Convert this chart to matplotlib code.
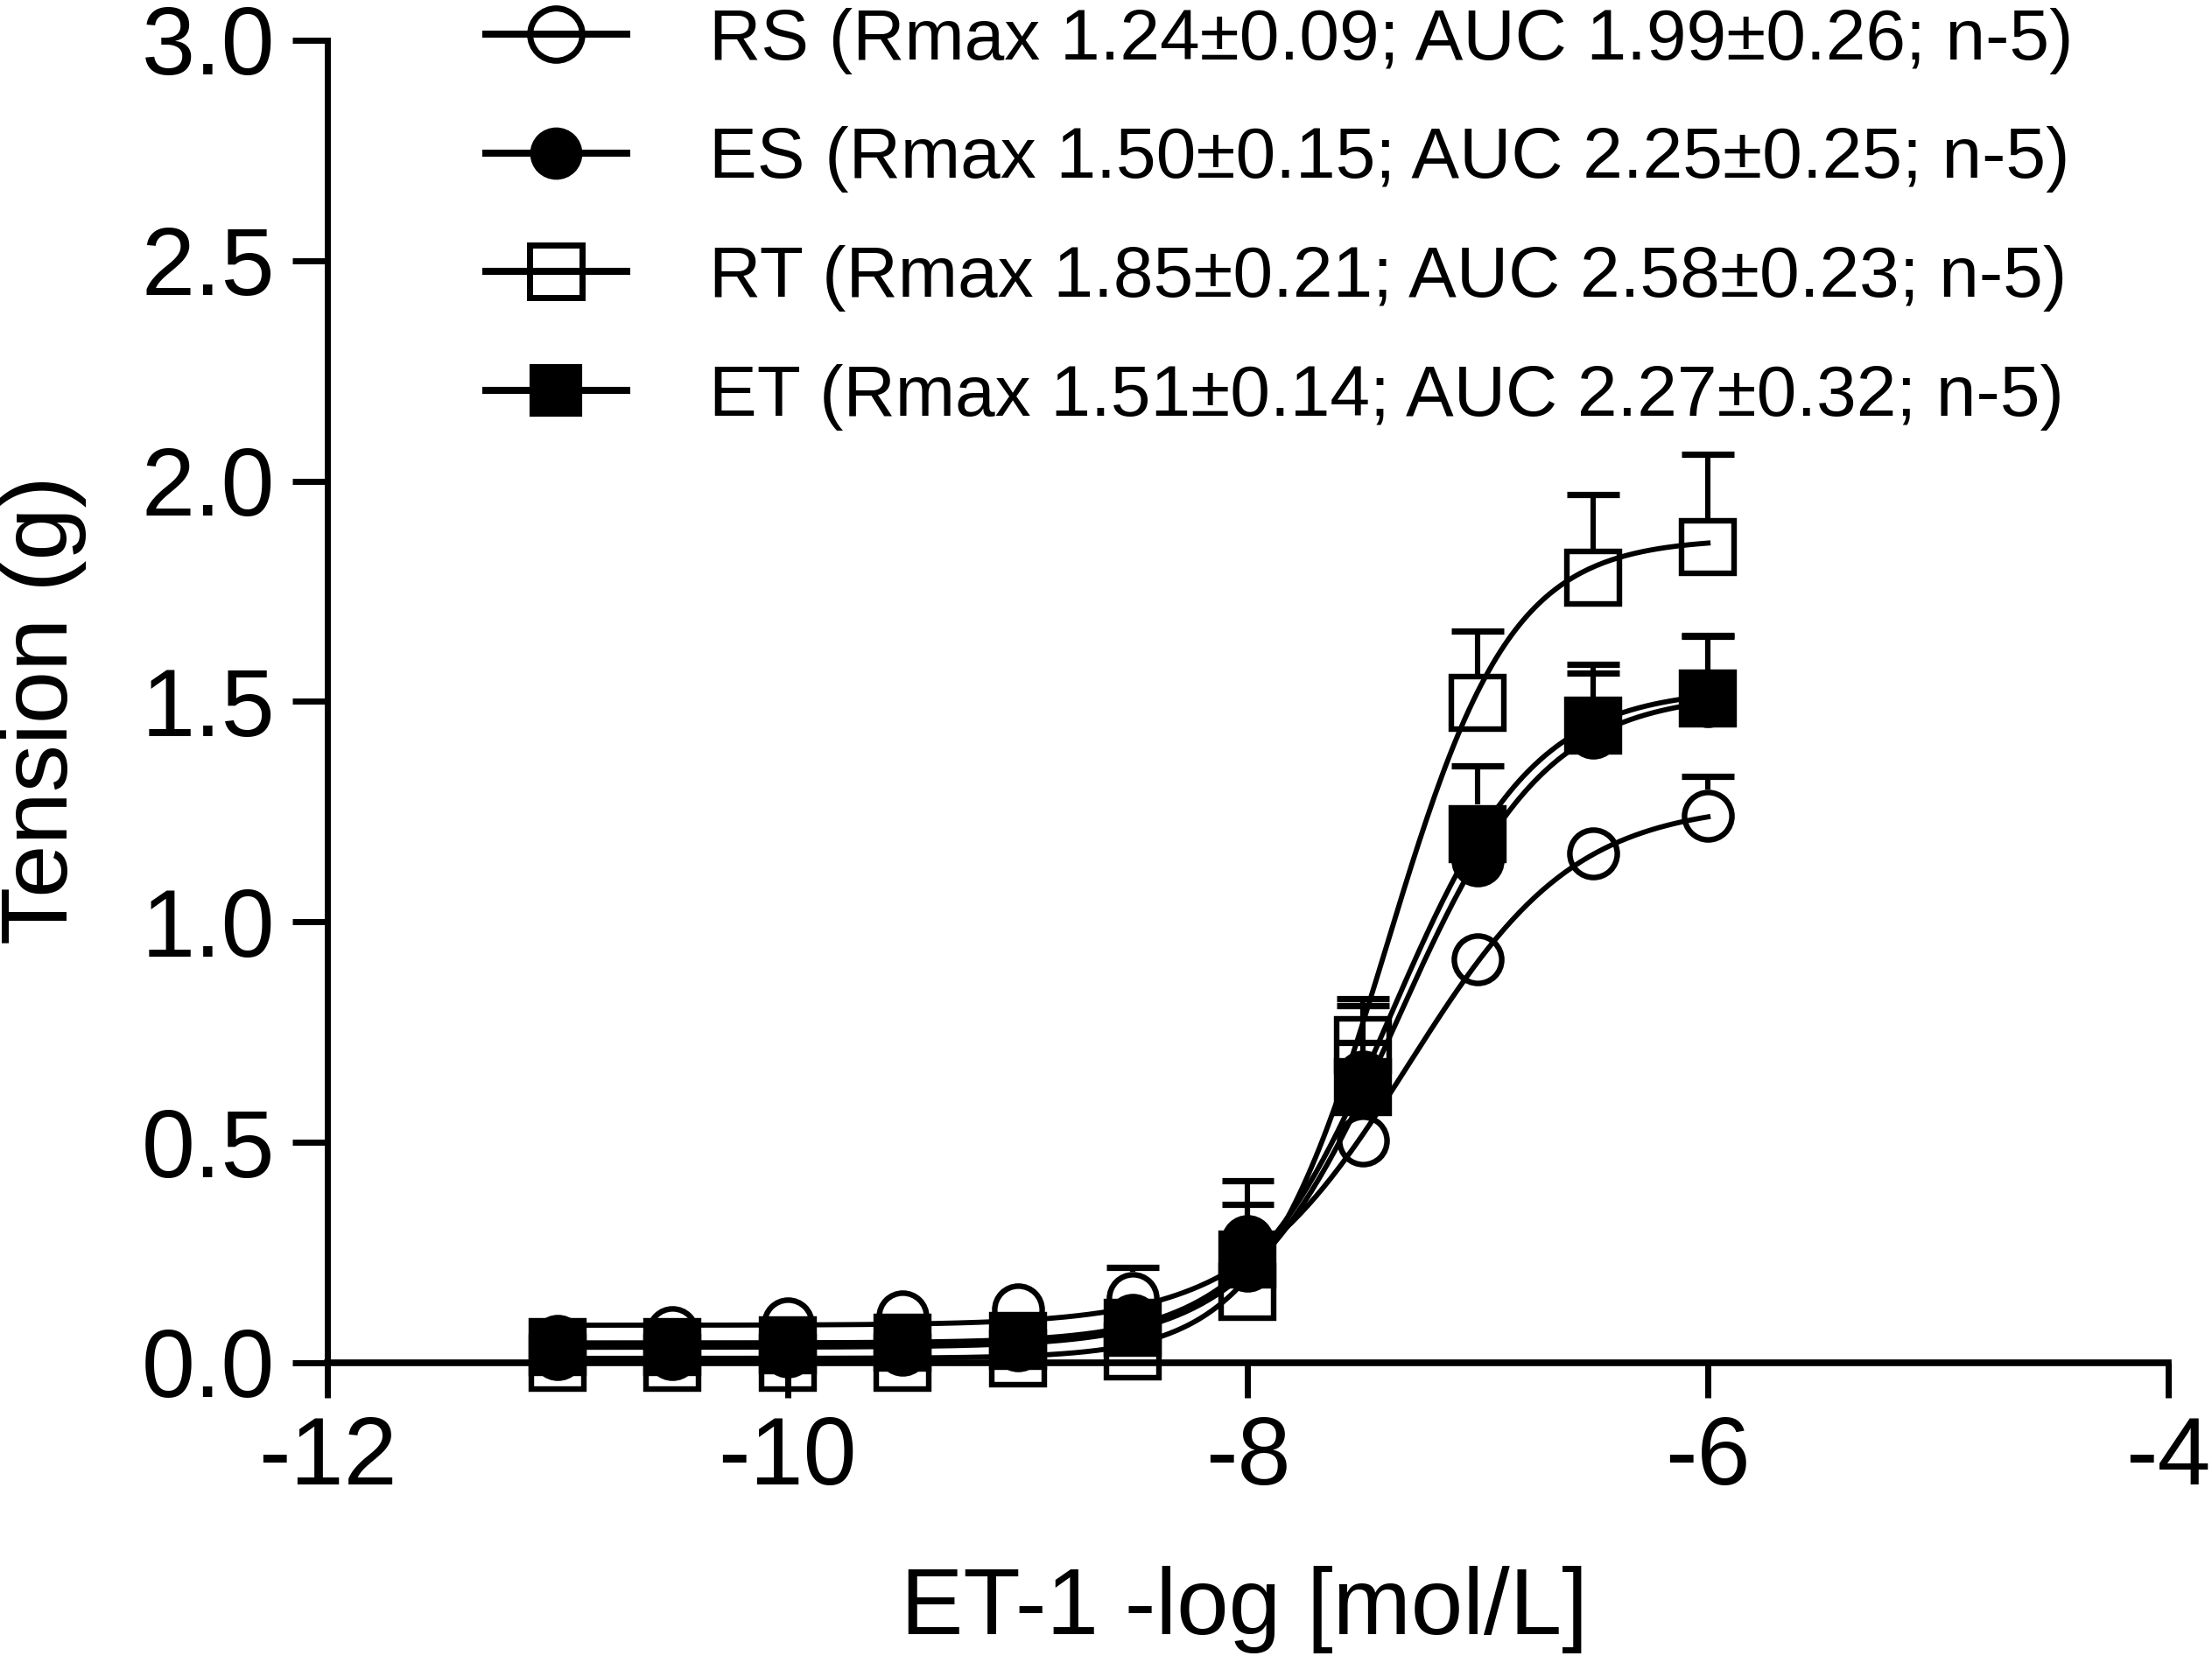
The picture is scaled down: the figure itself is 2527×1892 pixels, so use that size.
import numpy as np
import matplotlib
matplotlib.use('Agg')
import matplotlib.pyplot as plt
from matplotlib.lines import Line2D

plt.rcParams['font.family'] = ['Liberation Sans', 'DejaVu Sans']
plt.rcParams['axes.unicode_minus'] = False

# ET-1 concentrations (log mol/L)
log_conc = np.array([-11, -10.5, -10, -9.5, -9, -8.5, -8, -7.5, -7, -6.5, -6])

# mean tension (g) per group
rs_mean = np.array([0.05, 0.07, 0.09, 0.105, 0.12, 0.147, 0.22, 0.505, 0.915, 1.155, 1.24])
es_mean = np.array([0.02, 0.02, 0.025, 0.03, 0.04, 0.097, 0.275, 0.65, 1.14, 1.43, 1.50])
rt_mean = np.array([0.0, 0.0, 0.0, 0.0, 0.01, 0.025, 0.16, 0.72, 1.497, 1.78, 1.85])
et_mean = np.array([0.035, 0.035, 0.04, 0.045, 0.05, 0.08, 0.235, 0.626, 1.20, 1.445, 1.507])

# SEM
rs_sem = np.array([0.01, 0.01, 0.01, 0.01, 0.01, 0.07, 0.05, 0.04, 0.05, 0.05, 0.09])
es_sem = np.array([0.01, 0.01, 0.01, 0.01, 0.01, 0.04, 0.138, 0.16, 0.10, 0.135, 0.15])
rt_sem = np.array([0.0, 0.0, 0.0, 0.0, 0.01, 0.02, 0.05, 0.105, 0.163, 0.19, 0.21])
et_sem = np.array([0.01, 0.01, 0.01, 0.01, 0.01, 0.03, 0.125, 0.10, 0.154, 0.14, 0.14])

# fitted sigmoid parameters: bottom, top, logEC50, hill slope
rs_fit = [0.085, 1.27, -7.30, 1.2]
es_fit = [0.035, 1.52, -7.35, 1.35]
rt_fit = [0.01, 1.87, -7.40, 1.6]
et_fit = [0.045, 1.53, -7.38, 1.4]

labels = ['RS (Rmax 1.24\u00b10.09; AUC 1.99\u00b10.26; n-5)',
          'ES (Rmax 1.50\u00b10.15; AUC 2.25\u00b10.25; n-5)',
          'RT (Rmax 1.85\u00b10.21; AUC 2.58\u00b10.23; n-5)',
          'ET (Rmax 1.51\u00b10.14; AUC 2.27\u00b10.32; n-5)']

x_ticks = [-12, -10, -8, -6, -4]
y_ticks = [0.0, 0.5, 1.0, 1.5, 2.0, 2.5, 3.0]


def hill(x, p):
    bottom, top, ec50, slope = p
    return bottom + (top - bottom) / (1 + 10 ** ((ec50 - x) * slope))


fig = plt.figure(figsize=(25.27, 18.92), dpi=100)
ax = fig.add_axes([0.148, 0.1771, 0.9802 - 0.148, 0.9757 - 0.1771])

# name, mean, sem, fit, marker, filled, marker radius in data units
series = [('RS', rs_mean, rs_sem, rs_fit, 'o', False, 0.06),
          ('RT', rt_mean, rt_sem, rt_fit, 's', False, 0.066),
          ('ES', es_mean, es_sem, es_fit, 'o', True, 0.06),
          ('ET', et_mean, et_sem, et_fit, 's', True, 0.066)]

xs = np.linspace(log_conc[0], log_conc[-1], 300)
cap_half = 0.114
for name, mean, sem, fit, mk, filled, r in series:
    # upward error bars starting at marker edge (hidden when shorter than marker)
    sel = sem > r
    ax.vlines(log_conc[sel], mean[sel] + r, mean[sel] + sem[sel], color='black', lw=4.4, zorder=2)
    ax.hlines(mean[sel] + sem[sel], log_conc[sel] - cap_half, log_conc[sel] + cap_half,
              color='black', lw=5.2, zorder=2)
    ax.plot(xs, hill(xs, fit), color='black', lw=4.2, zorder=3, clip_on=False)

for name, mean, sem, fit, mk, filled, r in series:
    ms = 39 if mk == 'o' else 43
    ax.plot(log_conc, mean, linestyle='none', marker=mk, ms=ms, mew=4.6,
            mec='black', mfc='black' if filled else 'none', zorder=4, clip_on=False)

ax.set_xlim(-12, -4)
ax.set_ylim(0, 3.0)
ax.set_xticks(x_ticks)
ax.set_xticklabels([str(t) for t in x_ticks])
ax.set_yticks(y_ticks)
ax.set_yticklabels(['%.1f' % t for t in y_ticks])
ax.spines['top'].set_visible(False)
ax.spines['right'].set_visible(False)
ax.spines['left'].set_linewidth(5)
ax.spines['bottom'].set_linewidth(5.5)
ax.tick_params(axis='both', length=29, width=5, labelsize=79, pad=14, direction='out')

fig.text(0.5627, 0.0132, 'ET-1 -log [mol/L]', fontsize=77, ha='center', va='baseline')
fig.text(0.0305, 0.4297, 'Tension (g)', fontsize=78, rotation=90,
         rotation_mode='anchor', ha='left', va='baseline')

# legend
handles = []
for mk, filled in [('o', False), ('o', True), ('s', False), ('s', True)]:
    if filled:
        handles.append(Line2D([], [], color='black', lw=5.8, marker=mk, ms=40, mew=3,
                              mec='black', mfc='black'))
    else:
        handles.append(Line2D([], [], color='black', lw=5.8, marker=mk, ms=43, mew=5,
                              mec='black', mfc='none'))
fig.legend(handles, labels, loc='upper left', bbox_to_anchor=(0.2196, 0.9955),
           frameon=False, fontsize=59, handlelength=1.96, handletextpad=1.15,
           labelspacing=0.73, borderpad=0, borderaxespad=0)

fig.savefig('out.png', dpi=100)
